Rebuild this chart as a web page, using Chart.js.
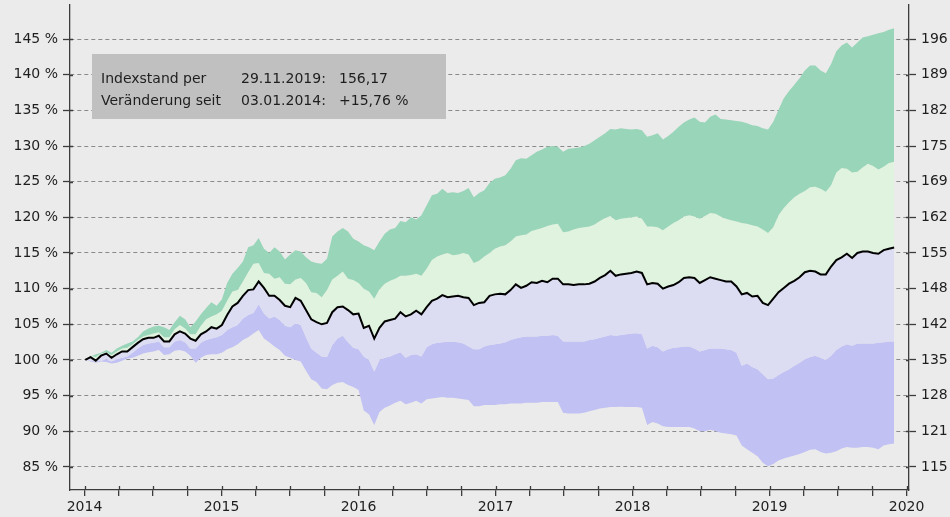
<!DOCTYPE html>
<html>
<head>
<meta charset="utf-8">
<script src="https://cdn.jsdelivr.net/npm/chart.js@4.4.1/dist/chart.umd.min.js"></script>
<style>
html, body { margin: 0; padding: 0; background: #ebebeb; }
canvas { display: block; }
</style>
</head>
<body>
<canvas id="indexChart" width="950" height="517"></canvas>
<script>
// Stichtage: alle 14 Tage vom 03.01.2014 bis 29.11.2019
const startDatum = '2014-01-03';
const schrittTage = 14;

// Indexverlauf in % (100 = 03.01.2014)
const indexVerlauf = [
    100.0, 100.4, 99.9, 100.6, 100.9, 100.3, 100.8, 101.2, 101.2, 101.8,
    102.4, 102.9, 103.1, 103.1, 103.4, 102.6, 102.6, 103.6, 104.0, 103.7,
    103.0, 102.7, 103.6, 104.0, 104.6, 104.4, 104.9, 106.3, 107.5, 108.0,
    109.0, 109.8, 109.9, 111.0, 110.1, 109.0, 109.0, 108.4, 107.6, 107.4,
    108.7, 108.3, 107.0, 105.7, 105.3, 105.0, 105.2, 106.7, 107.4, 107.5,
    107.0, 106.4, 106.5, 104.5, 104.8, 103.0, 104.5, 105.4, 105.6, 105.8,
    106.7, 106.1, 106.4, 106.9, 106.4, 107.4, 108.3, 108.6, 109.1, 108.8,
    108.9, 109.0, 108.8, 108.7, 107.7, 108.0, 108.1, 109.0, 109.2, 109.3,
    109.2, 109.8, 110.6, 110.1, 110.4, 110.9, 110.8, 111.1, 110.9, 111.4,
    111.4, 110.6, 110.6, 110.5, 110.6, 110.6, 110.7, 111.0, 111.5, 111.9,
    112.5, 111.8, 112.0, 112.1, 112.2, 112.4, 112.2, 110.6, 110.8, 110.7,
    110.0, 110.3, 110.5, 110.9, 111.5, 111.6, 111.5, 110.8, 111.2, 111.6,
    111.4, 111.2, 111.0, 111.0, 110.3, 109.2, 109.4, 108.9, 109.0, 108.0,
    107.7, 108.6, 109.5, 110.1, 110.7, 111.1, 111.6, 112.3, 112.5, 112.4,
    112.0, 112.0, 113.1, 114.0, 114.4, 114.9, 114.3, 115.0, 115.2, 115.2,
    115.0, 114.9, 115.4, 115.6, 115.76
];

// Bandbreiten
const obenAussen = [
    100.0, 100.5, 100.8, 101.0, 101.4, 101.0, 101.6, 102.0, 102.3, 102.6,
    103.2, 104.0, 104.4, 104.7, 104.8, 104.6, 104.2, 105.3, 106.2, 105.7,
    104.6, 105.4, 106.4, 107.3, 108.1, 107.6, 108.5, 110.8, 112.1, 112.9,
    113.8, 115.8, 116.1, 117.1, 115.6, 115.0, 115.8, 115.2, 114.1, 114.8,
    115.4, 115.2, 114.4, 113.8, 113.6, 113.5, 114.2, 117.3, 118.0, 118.5,
    118.0, 117.0, 116.6, 116.1, 115.8, 115.4, 116.6, 117.7, 118.3, 118.5,
    119.5, 119.3, 120.0, 119.7, 120.3, 121.7, 123.1, 123.3, 124.0, 123.4,
    123.5, 123.4, 123.7, 124.1, 122.8, 123.4, 123.8, 124.8, 125.4, 125.6,
    125.9, 126.8, 128.0, 128.3, 128.2, 128.7, 129.2, 129.5, 129.9, 130.0,
    129.9, 129.2, 129.6, 129.7, 129.8, 130.0, 130.3, 130.8, 131.3, 131.8,
    132.4, 132.3, 132.5, 132.4, 132.3, 132.4, 132.2, 131.3, 131.5, 131.8,
    130.9, 131.4, 132.0, 132.7, 133.3, 133.7, 134.0, 133.4, 133.3, 134.1,
    134.4, 133.8, 133.7, 133.6, 133.5, 133.4, 133.2, 132.9, 132.8, 132.5,
    132.3, 133.4, 135.1, 136.7, 137.7, 138.6, 139.5, 140.6, 141.3, 141.3,
    140.6, 140.2, 141.5, 143.3, 144.1, 144.5, 143.8, 144.5, 145.2, 145.4,
    145.6, 145.8, 146.0, 146.3, 146.5
];
const obenInnen = [
    100.0, 100.6, 100.4, 100.9, 101.1, 100.7, 101.2, 101.6, 101.7, 102.2,
    102.8, 103.3, 103.5, 103.7, 103.9, 103.2, 103.2, 104.3, 104.9, 104.4,
    103.6, 103.6, 104.8, 105.7, 106.1, 106.4, 106.9, 108.3, 109.6, 109.8,
    111.0, 112.3, 113.5, 113.6, 112.2, 112.1, 111.4, 111.6, 110.7, 110.6,
    111.3, 111.5, 110.8, 109.5, 109.4, 108.8, 109.8, 111.3, 111.8, 112.4,
    111.4, 111.2, 110.8, 110.0, 109.6, 108.6, 109.9, 110.7, 111.1, 111.4,
    111.8, 111.8, 111.9, 112.1, 111.8, 112.8, 114.0, 114.5, 114.8, 115.0,
    114.7, 114.8, 115.0, 114.8, 113.6, 113.9, 114.5, 115.0, 115.6, 115.9,
    116.1, 116.6, 117.3, 117.5, 117.6, 118.1, 118.3, 118.5, 118.8, 119.0,
    119.1, 117.9, 118.0, 118.3, 118.5, 118.6, 118.7, 119.0, 119.5, 119.9,
    120.2, 119.6, 119.8, 119.9, 120.0, 120.1, 119.8, 118.7, 118.7, 118.6,
    118.2, 118.7, 119.2, 119.6, 120.1, 120.3, 120.1, 119.8, 120.2, 120.6,
    120.5, 120.1, 119.8, 119.6, 119.4, 119.2, 119.1, 118.9, 118.7, 118.3,
    117.8, 118.6, 120.3, 121.3, 122.1, 122.8, 123.3, 123.7, 124.2, 124.3,
    124.0, 123.6, 124.5, 126.3, 126.9, 126.8, 126.3, 126.4, 127.0, 127.5,
    127.2, 126.7, 127.1, 127.6, 127.8
];
const untenInnen = [
    100.0, 99.9, 99.8, 99.9, 100.1, 99.8, 100.1, 100.3, 100.5, 101.0,
    101.6, 102.1, 102.3, 102.4, 102.6, 101.8, 101.8, 102.6, 102.8, 102.5,
    101.6, 101.6, 102.4, 102.8, 103.0, 103.2, 103.5, 104.2, 104.6, 104.9,
    105.8, 106.3, 106.6, 107.8, 106.5, 105.8, 106.1, 105.6, 104.8, 104.6,
    105.1, 104.9, 103.2, 101.6, 101.0, 100.5, 100.4, 102.1, 103.0, 103.4,
    102.5, 101.7, 101.5, 100.5, 100.0, 98.4, 100.0, 100.3, 100.5, 100.8,
    101.1, 100.3, 100.7, 100.8, 100.5, 101.8, 102.2, 102.4, 102.5, 102.55,
    102.55, 102.5, 102.3, 101.9, 101.5, 101.5, 101.9, 102.1, 102.2, 102.3,
    102.5, 102.8, 103.0, 103.2, 103.3, 103.3, 103.3, 103.4, 103.4, 103.5,
    103.4, 102.6, 102.6, 102.6, 102.6, 102.6, 102.8, 102.9, 103.1, 103.3,
    103.5, 103.4, 103.5, 103.6, 103.7, 103.75, 103.6, 101.6, 102.0, 101.8,
    101.2, 101.5, 101.7, 101.8, 101.9, 101.9, 101.6, 101.2, 101.4, 101.6,
    101.6, 101.6, 101.5, 101.4, 101.0, 99.2, 99.5, 99.0, 98.7, 98.0,
    97.3, 97.4, 97.9, 98.3, 98.7, 99.2, 99.6, 100.1, 100.4, 100.6,
    100.3, 100.0, 100.6, 101.4, 101.9, 102.2, 102.0, 102.3, 102.3, 102.3,
    102.3, 102.4, 102.5, 102.6, 102.6
];
const untenAussen = [
    100.0, 99.8, 99.6, 99.8, 99.7, 99.5, 99.6, 99.9, 100.2, 100.3,
    100.6, 100.9, 101.1, 101.2, 101.4, 100.7, 100.8, 101.3, 101.4, 101.2,
    100.6, 99.6, 100.3, 100.7, 100.8, 100.8, 101.0, 101.5, 101.8, 102.2,
    102.8, 103.2, 103.7, 104.2, 103.0, 102.5, 101.9, 101.4, 100.6, 100.3,
    100.0, 99.8, 98.5, 97.3, 96.9, 96.0, 95.9, 96.5, 96.8, 96.9,
    96.5, 96.2, 95.8, 92.9, 92.4, 90.9, 92.7, 93.3, 93.6, 94.0,
    94.3, 93.8, 94.0, 94.3, 93.9, 94.5, 94.6, 94.7, 94.8, 94.7,
    94.7, 94.6, 94.5, 94.4, 93.5, 93.5, 93.7, 93.7, 93.7, 93.8,
    93.8, 93.9, 93.9, 93.9, 94.0, 94.0, 94.0, 94.1, 94.1, 94.1,
    94.1, 92.6, 92.5, 92.5, 92.5, 92.6, 92.8, 93.0, 93.2, 93.3,
    93.4, 93.4, 93.45, 93.4, 93.4, 93.4, 93.3, 90.9, 91.3, 91.1,
    90.7, 90.6, 90.6, 90.6, 90.6, 90.6, 90.4, 90.0, 90.0, 90.2,
    90.0, 89.8, 89.7, 89.6, 89.4, 88.0, 87.5, 87.0, 86.5, 85.6,
    85.1, 85.4, 85.9, 86.2, 86.4, 86.6, 86.8, 87.1, 87.4, 87.5,
    87.1, 86.9, 87.0, 87.2, 87.6, 87.8, 87.7, 87.7, 87.8, 87.8,
    87.7, 87.5, 88.0, 88.2, 88.3
];

const prozentTicks = [85, 90, 95, 100, 105, 110, 115, 120, 125, 130, 135, 140, 145];
const indexTicks = ['115', '121', '128', '135', '142', '148', '155', '162', '169', '175', '182', '189', '196'];
const jahrTicks = [2014, 2015, 2016, 2017, 2018, 2019, 2020];

const infoZeilen = [
    ['Indexstand per', '29.11.2019:', '156,17'],
    ['Veränderung seit', '03.01.2014:', '+15,76 %']
];

const schrift = { family: 'DejaVu Sans', size: 14 };
const textFarbe = '#1e1e1e';
const achsenFarbe = '#3c3c3c';

// Datum -> Dezimaljahr
function dezimalJahr(d) {
    const j = d.getUTCFullYear();
    const a = Date.UTC(j, 0, 1);
    const b = Date.UTC(j + 1, 0, 1);
    return j + (d.getTime() - a) / (b - a);
}

const jahre = [];
const start = new Date(startDatum + 'T00:00:00Z');
for (let i = 0; i < indexVerlauf.length; i++) {
    const d = new Date(start.getTime() + i * schrittTage * 86400000);
    jahre.push(dezimalJahr(d));
}

// Quartals-Striche auf der x-Achse
const quartalTicks = [];
jahrTicks.forEach((j, k) => {
    quartalTicks.push(j);
    if (k < jahrTicks.length - 1) {
        quartalTicks.push(j + 0.25, j + 0.5, j + 0.75);
    }
});

const punkte = werte => werte.map((w, i) => ({ x: jahre[i], y: w }));

// kurze Striche nach innen (wie bei matplotlib 'inout')
const innenStriche = {
    id: 'innenStriche',
    afterDraw(chart) {
        const ctx = chart.ctx;
        const area = chart.chartArea;
        ctx.save();
        ctx.strokeStyle = achsenFarbe;
        ctx.lineWidth = 1.3;
        ctx.beginPath();
        chart.scales.y.ticks.forEach(t => {
            const py = Math.round(chart.scales.y.getPixelForValue(t.value)) + 0.5;
            ctx.moveTo(area.left, py); ctx.lineTo(area.left + 3, py);
            ctx.moveTo(area.right - 3, py); ctx.lineTo(area.right, py);
        });
        chart.scales.x.ticks.forEach(t => {
            const px = Math.round(chart.scales.x.getPixelForValue(t.value)) + 0.5;
            ctx.moveTo(px, area.bottom); ctx.lineTo(px, area.bottom - 4);
        });
        ctx.stroke();
        ctx.restore();
    }
};

// graue Infobox oben links
const infoBox = {
    id: 'infoBox',
    afterDraw(chart) {
        const ctx = chart.ctx;
        ctx.save();
        ctx.fillStyle = '#c0c0c0';
        ctx.fillRect(92, 54, 354, 65);
        ctx.fillStyle = textFarbe;
        ctx.font = '14px "DejaVu Sans"';
        ctx.textBaseline = 'alphabetic';
        const spalten = [101, 241, 339];
        infoZeilen.forEach((zeile, z) => {
            zeile.forEach((txt, s) => {
                ctx.fillText(txt, spalten[s], 83 + z * 21.5);
            });
        });
        ctx.restore();
    }
};

const yMin = 81.77;
const yMax = 149.77;

const ctx = document.getElementById('indexChart').getContext('2d');
const indexChart = new Chart(ctx, {
    type: 'line',
    data: {
        datasets: [
            {
                label: 'Index',
                data: punkte(indexVerlauf),
                borderColor: '#000000',
                borderWidth: 2,
                pointRadius: 0,
                fill: false,
                order: 0
            },
            {
                label: 'oben aussen',
                data: punkte(obenAussen),
                borderWidth: 0,
                borderColor: 'rgba(0,0,0,0)',
                backgroundColor: '#99d5b9',
                pointRadius: 0,
                fill: 2,
                order: 1
            },
            {
                label: 'oben innen',
                data: punkte(obenInnen),
                borderWidth: 0,
                borderColor: 'rgba(0,0,0,0)',
                backgroundColor: '#dff3df',
                pointRadius: 0,
                fill: 0,
                order: 1
            },
            {
                label: 'unten innen',
                data: punkte(untenInnen),
                borderWidth: 0,
                borderColor: 'rgba(0,0,0,0)',
                backgroundColor: '#dcdcf3',
                pointRadius: 0,
                fill: 0,
                order: 1
            },
            {
                label: 'unten aussen',
                data: punkte(untenAussen),
                borderWidth: 0,
                borderColor: 'rgba(0,0,0,0)',
                backgroundColor: '#c1c1f3',
                pointRadius: 0,
                fill: 3,
                order: 1
            }
        ]
    },
    options: {
        responsive: false,
        animation: false,
        devicePixelRatio: 1,
        layout: { padding: { top: 5, left: 0, right: 0, bottom: 0 } },
        plugins: {
            legend: { display: false },
            tooltip: { enabled: false }
        },
        scales: {
            x: {
                type: 'linear',
                min: 2013.894,
                max: 2020.018,
                afterBuildTicks: s => { s.ticks = quartalTicks.map(v => ({ value: v })); },
                afterFit: s => { s.height = 27; s.paddingLeft = 0; s.paddingRight = 0; },
                ticks: {
                    autoSkip: false,
                    maxRotation: 0,
                    padding: 3,
                    color: textFarbe,
                    font: schrift,
                    callback: v => Number.isInteger(v) ? String(v) : ''
                },
                grid: {
                    drawOnChartArea: false,
                    color: achsenFarbe,
                    lineWidth: 1.3,
                    tickLength: 6
                },
                border: { color: achsenFarbe, width: 1.3 }
            },
            y: {
                position: 'left',
                min: yMin,
                max: yMax,
                afterBuildTicks: s => { s.ticks = prozentTicks.map(v => ({ value: v })); },
                afterFit: s => { s.width = 70; s.paddingTop = 0; s.paddingBottom = 0; },
                ticks: {
                    padding: 5,
                    color: textFarbe,
                    font: schrift,
                    callback: v => v + ' %'
                },
                grid: {
                    color: '#8a8a8a',
                    lineWidth: 1,
                    tickColor: achsenFarbe,
                    tickWidth: 1.3,
                    tickLength: 7
                },
                border: { color: achsenFarbe, width: 1.3, dash: [4, 3] }
            },
            y2: {
                position: 'right',
                min: yMin,
                max: yMax,
                afterBuildTicks: s => { s.ticks = prozentTicks.map(v => ({ value: v })); },
                afterFit: s => { s.width = 41; s.paddingTop = 0; s.paddingBottom = 0; },
                ticks: {
                    padding: 5,
                    color: textFarbe,
                    font: schrift,
                    callback: (v, i) => indexTicks[i]
                },
                grid: {
                    drawOnChartArea: false,
                    color: achsenFarbe,
                    tickWidth: 1.3,
                    tickLength: 7
                },
                border: { color: achsenFarbe, width: 1.3 }
            }
        }
    },
    plugins: [innenStriche, infoBox]
});
</script>
</body>
</html>
